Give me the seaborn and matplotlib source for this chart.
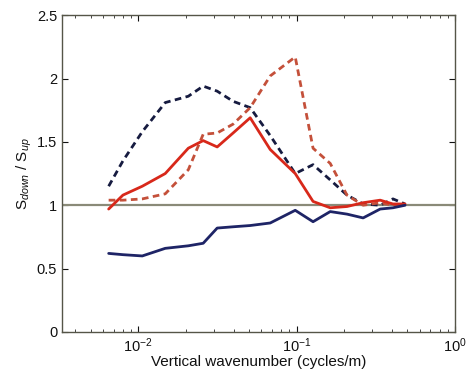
import matplotlib.pyplot as plt
import pandas as pd
import numpy as np
import seaborn as sns

# vertical wavenumber (cycles/m)
wavenumber = [0.0065, 0.0080, 0.0106, 0.0148, 0.0207, 0.0257, 0.0315, 0.0397,
              0.0509, 0.0681, 0.098, 0.127, 0.163, 0.208, 0.263, 0.337,
              0.406, 0.484]

# S_down / S_up ratios
navy_dashed = [1.15, 1.35, 1.58, 1.81, 1.86, 1.94, 1.90, 1.82, 1.77, 1.55,
               1.25, 1.32, 1.20, 1.08, 1.01, 1.00, 1.05, 1.01]
red_solid = [0.97, 1.08, 1.15, 1.25, 1.45, 1.51, 1.46, 1.57, 1.69, 1.44,
             1.25, 1.03, 0.98, 0.99, 1.02, 1.04, 1.01, 1.01]
red_dashed = [1.04, 1.04, 1.05, 1.09, 1.28, 1.56, 1.57, 1.64, 1.77, 2.02,
              2.17, 1.45, 1.33, 1.08, 1.00, 1.02, 1.00, 1.01]
navy_solid = [0.62, 0.61, 0.60, 0.66, 0.68, 0.70, 0.82, 0.83, 0.84, 0.86,
              0.96, 0.87, 0.95, 0.93, 0.90, 0.97, 0.98, 1.00]

sns.set_theme(style='ticks')
plt.rcParams['font.family'] = ['Liberation Sans', 'DejaVu Sans']
plt.rcParams['mathtext.fontset'] = 'custom'
plt.rcParams['mathtext.rm'] = 'Liberation Sans'
plt.rcParams['mathtext.it'] = 'Liberation Sans:italic'

fig = plt.figure(figsize=(4.7, 3.69), dpi=100)
ax = fig.add_axes([0.132, 0.1003, 0.836, 0.8587])

ax.axhline(1.0, color='#8a8a78', lw=1.6, zorder=1)

series = [
    (navy_dashed, '#161b40', (2.4, 1.6)),
    (red_dashed, '#c4503a', (2.4, 1.6)),
    (red_solid, '#d8281a', ''),
    (navy_solid, '#1e2466', ''),
]
for vals, col, dash in series:
    df = pd.DataFrame({'k': wavenumber, 'r': vals})
    if dash:
        sns.lineplot(data=df, x='k', y='r', ax=ax, color=col, lw=2.0,
                     dashes=False, linestyle=(0, dash))
    else:
        sns.lineplot(data=df, x='k', y='r', ax=ax, color=col, lw=2.0)

ax.set_xscale('log')
ax.set_xlim(0.0033, 1.0)
ax.set_ylim(0, 2.5)
ax.set_xticks([1e-2, 1e-1, 1e0])
ax.set_xticklabels([r'$10^{-2}$', r'$10^{-1}$', r'$10^{0}$'])
ax.set_yticks([0, 0.5, 1, 1.5, 2, 2.5])
ax.set_yticklabels(['0', '0.5', '1', '1.5', '2', '2.5'])
ax.tick_params(direction='in', top=True, right=True, labelsize=10.5,
               colors='#111111', length=4, width=0.8)
ax.tick_params(which='minor', direction='in', top=True, right=True,
               length=2, width=0.6)
for s in ax.spines.values():
    s.set_color('#555548')
    s.set_linewidth(1.0)

ax.set_xlabel('Vertical wavenumber (cycles/m)', fontsize=11,
              color='#111111', labelpad=0)
ax.set_ylabel(r'S$_{down}$ / S$_{up}$', fontsize=11, color='#111111',
              labelpad=2)

fig.savefig('out.png', dpi=100)
